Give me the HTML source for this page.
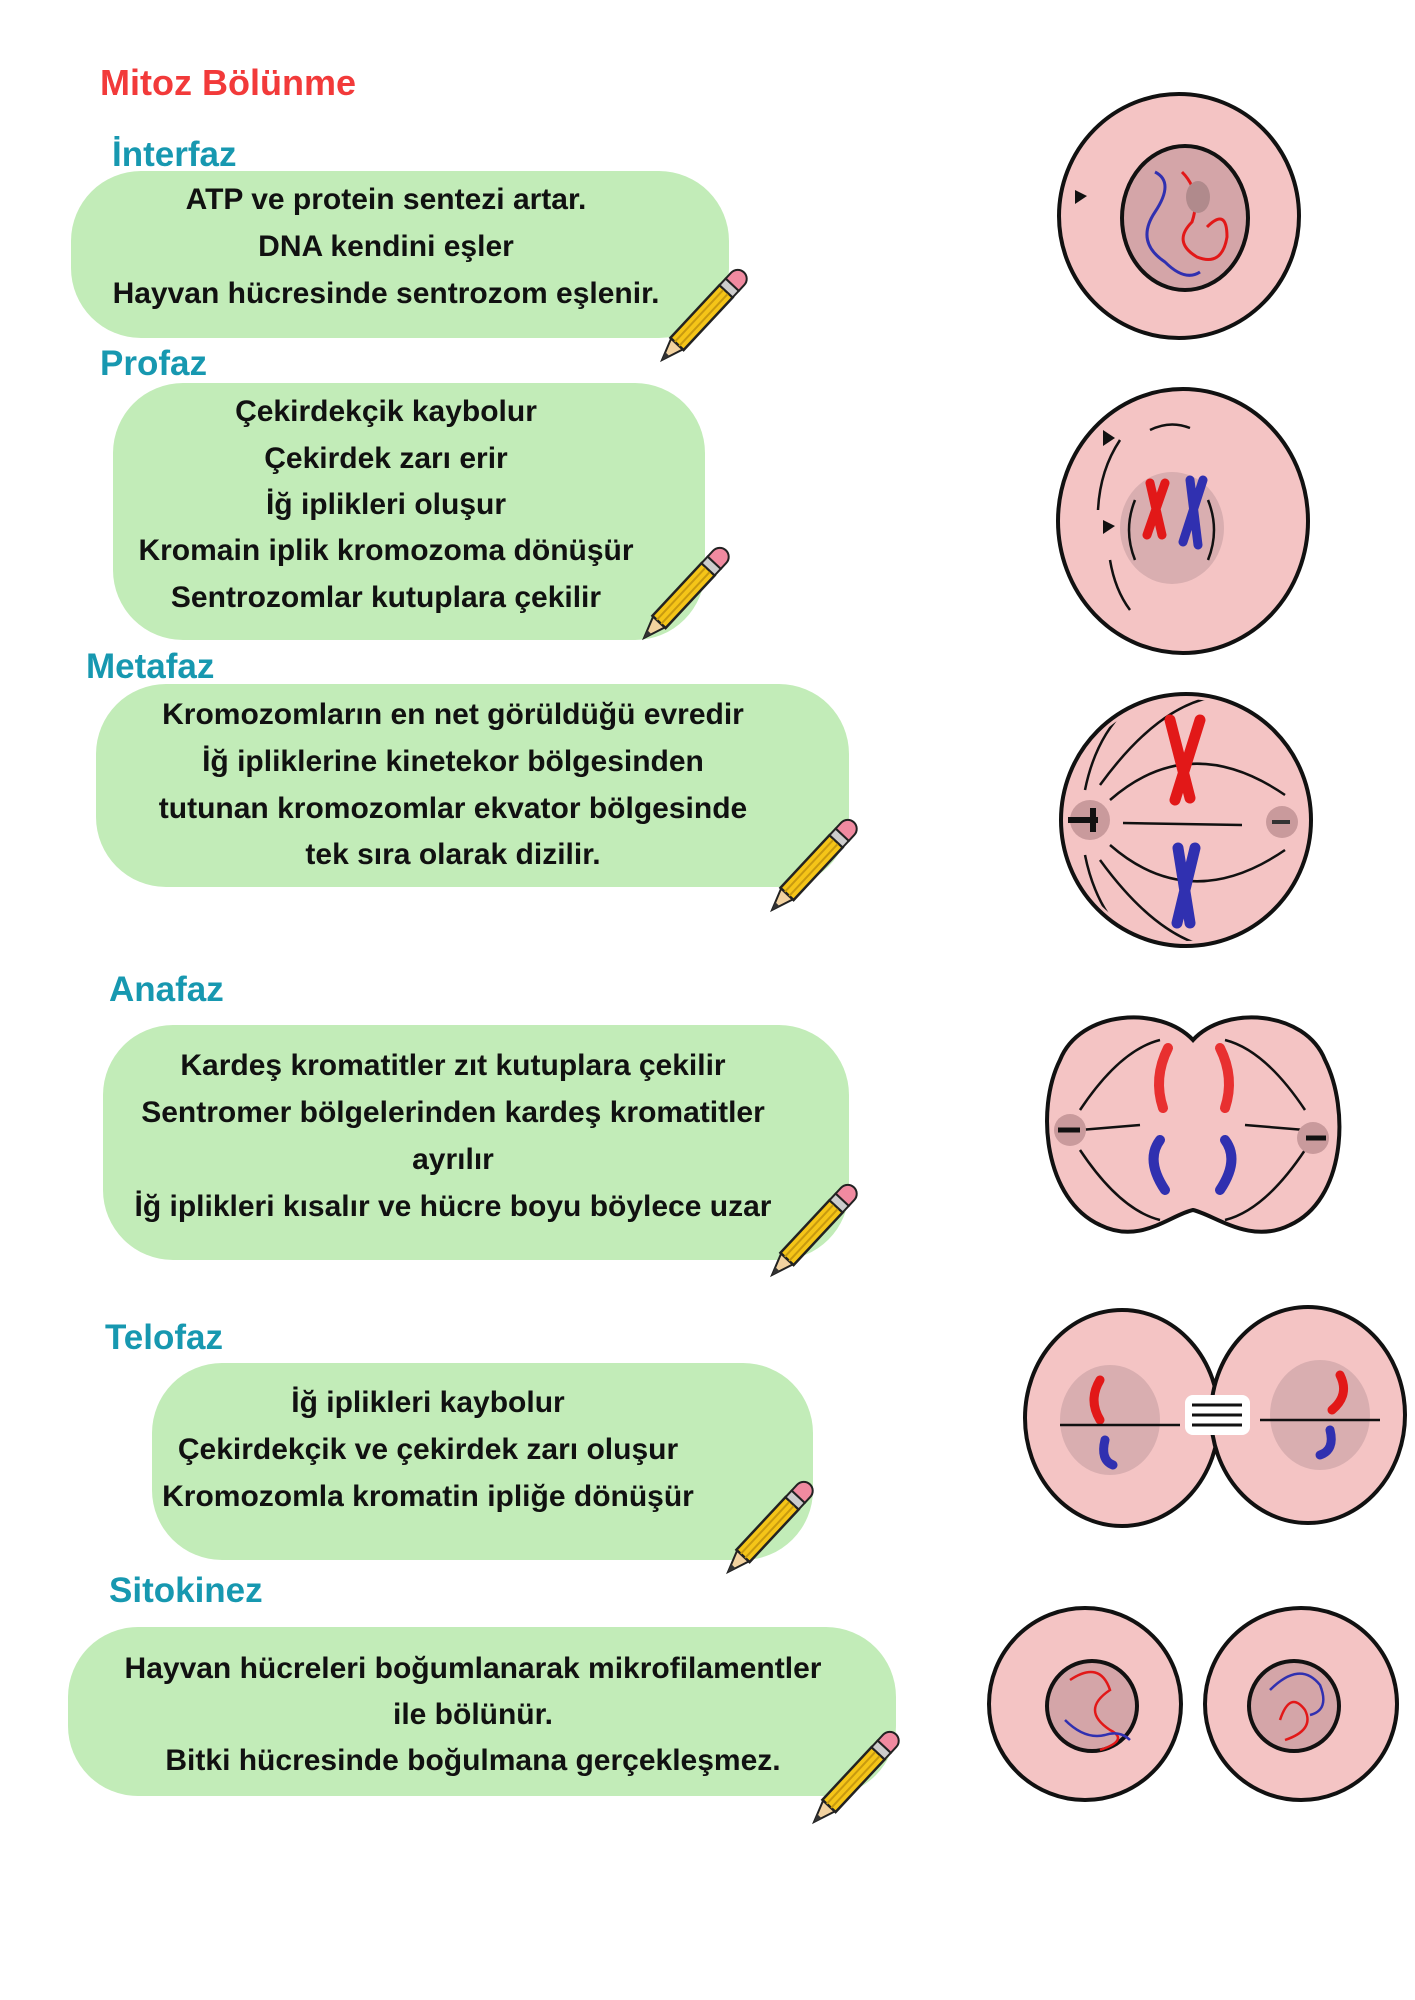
<!DOCTYPE html>
<html><head><meta charset="utf-8"><style>
html,body{margin:0;padding:0;background:#fff}
svg{display:block}
.t{font-family:"Liberation Sans","DejaVu Sans",sans-serif;font-weight:bold;fill:#111;font-size:30px;text-anchor:middle}
.h{font-family:"Liberation Sans","DejaVu Sans",sans-serif;font-weight:bold;fill:#1798b0;font-size:35px}
</style></head><body>
<svg width="1415" height="2000" viewBox="0 0 1415 2000" xmlns="http://www.w3.org/2000/svg">
<defs>
<g id="pen">
 <polygon points="0,0 22,-8 22,8" fill="#f2d2a0" stroke="#222" stroke-width="2"/>
 <polygon points="0,0 8,-3 8,3" fill="#333"/>
 <rect x="22" y="-9" width="72" height="18" fill="#f5c518" stroke="#222" stroke-width="2.5"/>
 <line x1="22" y1="-3" x2="94" y2="-3" stroke="#c89a10" stroke-width="2"/>
 <line x1="22" y1="3" x2="94" y2="3" stroke="#c89a10" stroke-width="2"/>
 <rect x="94" y="-9" width="9" height="18" fill="#ccc" stroke="#222" stroke-width="2"/>
 <path d="M103,-9 h8 a9,9 0 0 1 0,18 h-8 z" fill="#f08aa0" stroke="#222" stroke-width="2"/>
</g>
<clipPath id="mc"><ellipse cx="1186" cy="820" rx="120" ry="121"/></clipPath>
</defs>

<text x="100" y="95" font-family="Liberation Sans,sans-serif" font-weight="bold" font-size="36" fill="#f23a3a">Mitoz Bölünme</text>

<text class="h" x="112" y="166">İnterfaz</text>
<rect x="71" y="171" width="658" height="167" rx="70" fill="#c2ecb8"/>
<text class="t" x="386" y="209">ATP ve protein sentezi artar.</text>
<text class="t" x="386" y="256">DNA kendini eşler</text>
<text class="t" x="386" y="303">Hayvan hücresinde sentrozom eşlenir.</text>
<use href="#pen" transform="translate(662,360) rotate(-47)"/>

<text class="h" x="100" y="375">Profaz</text>
<rect x="113" y="383" width="592" height="257" rx="70" fill="#c2ecb8"/>
<text class="t" x="386" y="421">Çekirdekçik kaybolur</text>
<text class="t" x="386" y="468">Çekirdek zarı erir</text>
<text class="t" x="386" y="514">İğ iplikleri oluşur</text>
<text class="t" x="386" y="560">Kromain iplik kromozoma dönüşür</text>
<text class="t" x="386" y="607">Sentrozomlar kutuplara çekilir</text>
<use href="#pen" transform="translate(644,638) rotate(-47)"/>

<text class="h" x="86" y="678">Metafaz</text>
<rect x="96" y="684" width="753" height="203" rx="70" fill="#c2ecb8"/>
<text class="t" x="453" y="724">Kromozomların en net görüldüğü evredir</text>
<text class="t" x="453" y="771">İğ ipliklerine kinetekor bölgesinden</text>
<text class="t" x="453" y="818">tutunan kromozomlar ekvator bölgesinde</text>
<text class="t" x="453" y="864">tek sıra olarak dizilir.</text>
<use href="#pen" transform="translate(772,910) rotate(-47)"/>

<text class="h" x="109" y="1001">Anafaz</text>
<rect x="103" y="1025" width="746" height="235" rx="70" fill="#c2ecb8"/>
<text class="t" x="453" y="1075">Kardeş kromatitler zıt kutuplara çekilir</text>
<text class="t" x="453" y="1122">Sentromer bölgelerinden kardeş kromatitler</text>
<text class="t" x="453" y="1169">ayrılır</text>
<text class="t" x="453" y="1216">İğ iplikleri kısalır ve hücre boyu böylece uzar</text>
<use href="#pen" transform="translate(772,1275) rotate(-47)"/>

<text class="h" x="105" y="1349">Telofaz</text>
<rect x="152" y="1363" width="661" height="197" rx="70" fill="#c2ecb8"/>
<text class="t" x="428" y="1412">İğ iplikleri kaybolur</text>
<text class="t" x="428" y="1459">Çekirdekçik ve çekirdek zarı oluşur</text>
<text class="t" x="428" y="1506">Kromozomla kromatin ipliğe dönüşür</text>
<use href="#pen" transform="translate(728,1572) rotate(-47)"/>

<text class="h" x="109" y="1602">Sitokinez</text>
<rect x="68" y="1627" width="828" height="169" rx="70" fill="#c2ecb8"/>
<text class="t" x="473" y="1678">Hayvan hücreleri boğumlanarak mikrofilamentler</text>
<text class="t" x="473" y="1724">ile bölünür.</text>
<text class="t" x="473" y="1770">Bitki hücresinde boğulmana gerçekleşmez.</text>
<use href="#pen" transform="translate(814,1822) rotate(-47)"/>

<g stroke="#111" stroke-width="4" fill="#f4c4c4">
 <ellipse cx="1179" cy="216" rx="120" ry="122"/>
 <ellipse cx="1185" cy="218" rx="63" ry="72" fill="#d4a5a8"/>
 <ellipse cx="1183" cy="521" rx="125" ry="132"/>
 <ellipse cx="1186" cy="820" rx="125" ry="126"/>
 <path d="M1193,1040 C1160,1005 1080,1010 1060,1060 C1035,1110 1045,1200 1100,1225 C1140,1245 1170,1215 1193,1210 C1215,1215 1250,1245 1290,1225 C1345,1200 1350,1110 1325,1060 C1305,1010 1225,1005 1193,1040 Z"/>
 <ellipse cx="1122" cy="1418" rx="97" ry="108"/>
 <ellipse cx="1308" cy="1415" rx="97" ry="108"/>
 <ellipse cx="1085" cy="1704" rx="96" ry="96"/>
 <ellipse cx="1301" cy="1704" rx="96" ry="96"/>
 <circle cx="1092" cy="1706" r="45" fill="#d4a5a8"/>
 <circle cx="1294" cy="1706" r="45" fill="#d4a5a8"/>
</g>
<ellipse cx="1172" cy="528" rx="52" ry="56" fill="#d9aeb0"/>
<g stroke="#111" stroke-width="2.5" fill="none">
 <path d="M1135,500 q-12,30 0,60"/><path d="M1208,500 q12,30 0,60"/>
 <path d="M1120,440 q-20,30 -22,70"/><path d="M1110,560 q5,30 20,50"/>
 <path d="M1150,430 q20,-10 40,-2"/>
</g>
<g stroke-linecap="round" stroke-width="9" fill="none">
 <path d="M1150,483 l12,52 M1165,483 l-18,52" stroke="#e21818"/>
 <path d="M1190,480 l8,65 M1203,480 l-20,62" stroke="#3030b0"/>
</g>
<path d="M1103,430 l12,8 -12,8 z M1103,520 l12,6 -12,8 z" fill="#111"/>
<g fill="none" stroke-width="3">
 <path d="M1155,172 q20,10 0,40 q-20,30 10,50 q20,20 35,10" stroke="#3030b0"/>
 <path d="M1182,172 q20,20 10,50 q-20,20 5,35 q25,10 30,-20 q0,-30 -20,-10" stroke="#e21818"/>
</g>
<ellipse cx="1198" cy="197" rx="12" ry="16" fill="#b08a8c"/>
<path d="M1075,190 l12,6 -12,8 z" fill="#111"/>
<g stroke="#111" stroke-width="2.5" fill="none" clip-path="url(#mc)">
 <line x1="1123" y1="823" x2="1242" y2="825"/>
 <path d="M1110,800 q80,-70 175,-5"/><path d="M1110,845 q80,70 175,5"/>
 <path d="M1100,785 q80,-110 160,-85"/><path d="M1100,860 q80,110 160,85"/>
 <path d="M1085,790 q10,-50 40,-80"/><path d="M1085,855 q10,50 40,80"/>
</g>
<circle cx="1090" cy="820" r="20" fill="#c99a9c"/>
<circle cx="1282" cy="822" r="16" fill="#c99a9c"/>
<path d="M1068,820 h30 M1093,808 v24" stroke="#111" stroke-width="6"/>
<path d="M1272,822 h18" stroke="#333" stroke-width="4"/>
<g stroke-linecap="round" stroke-width="11" fill="none">
 <path d="M1170,720 l20,78 M1200,720 l-25,80" stroke="#e21818"/>
 <path d="M1178,848 l12,75 M1195,848 l-18,75" stroke="#3030b0"/>
</g>
<g stroke="#111" stroke-width="2.5" fill="none">
 <path d="M1080,1130 l60,-5 M1245,1125 l60,5"/>
 <path d="M1080,1110 q40,-60 80,-70"/><path d="M1305,1110 q-40,-60 -80,-70"/>
 <path d="M1080,1150 q40,60 80,70"/><path d="M1305,1150 q-40,60 -80,70"/>
</g>
<g stroke-linecap="round" stroke-width="10" fill="none">
 <path d="M1168,1048 q-15,30 -5,60" stroke="#e83030"/>
 <path d="M1220,1048 q15,30 5,60" stroke="#e83030"/>
 <path d="M1160,1140 q-15,20 5,50" stroke="#3030b0"/>
 <path d="M1225,1140 q15,20 -5,50" stroke="#3030b0"/>
</g>
<circle cx="1070" cy="1130" r="16" fill="#c99a9c"/><circle cx="1313" cy="1138" r="16" fill="#c99a9c"/>
<path d="M1058,1130 h22 M1306,1138 h20" stroke="#111" stroke-width="5"/>
<rect x="1185" y="1395" width="65" height="40" rx="8" fill="#fff"/>
<g stroke="#111" stroke-width="3"><path d="M1192,1405 h50 M1192,1415 h50 M1192,1425 h50"/></g>
<ellipse cx="1110" cy="1420" rx="50" ry="55" fill="#d9aeb0"/>
<ellipse cx="1320" cy="1415" rx="50" ry="55" fill="#d9aeb0"/>
<g stroke-linecap="round" stroke-width="9" fill="none">
 <path d="M1100,1380 q-12,20 0,40" stroke="#e21818"/>
 <path d="M1340,1375 q10,20 -8,35" stroke="#e21818"/>
 <path d="M1105,1440 q-5,20 8,25" stroke="#3030b0"/>
 <path d="M1330,1430 q5,20 -10,25" stroke="#3030b0"/>
</g>
<path d="M1060,1425 h120 M1260,1420 h120" stroke="#111" stroke-width="2.5"/>
<g fill="none" stroke-width="2.5">
 <path d="M1070,1680 q30,-20 40,10 q-30,20 0,40 q20,10 -10,20" stroke="#e21818"/>
 <path d="M1065,1720 q20,20 40,15 q15,-5 25,5" stroke="#3030b0"/>
 <path d="M1270,1690 q30,-30 50,-5 q10,25 -10,30" stroke="#3030b0"/>
 <path d="M1280,1720 q10,-30 25,-10 q10,20 -20,30" stroke="#e21818"/>
</g>
</svg>
</body></html>
